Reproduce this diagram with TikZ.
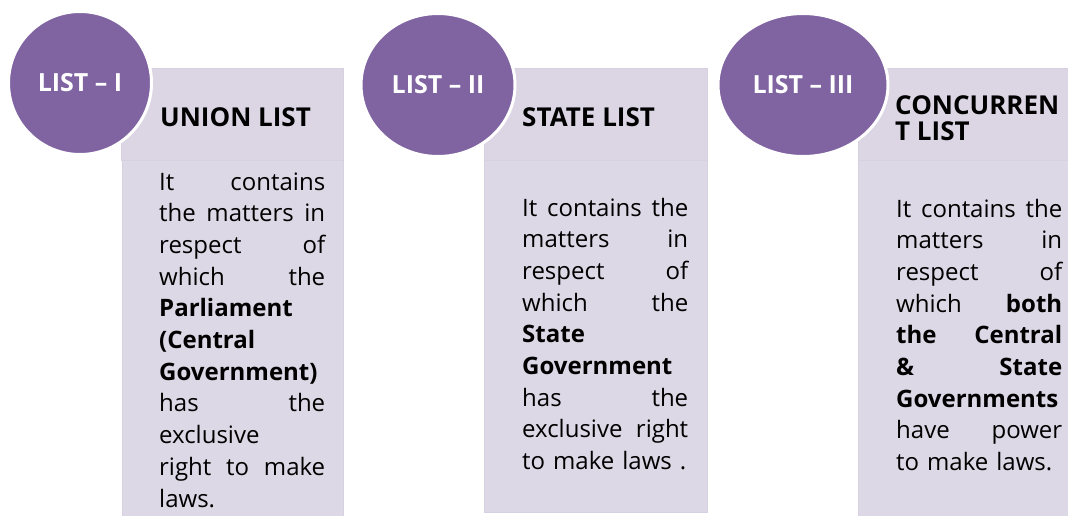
\documentclass[tikz,border=0pt]{standalone}
\usepackage{fontspec}
\setmainfont{Open Sans}
\usetikzlibrary{shapes.geometric}
\definecolor{listpurple}{HTML}{8064A2}
\definecolor{headfill}{HTML}{DCD6E4}
\definecolor{bodyfill}{HTML}{DDD8E5}
\definecolor{boxedge}{HTML}{D6D0E0}

\begin{document}
\begin{tikzpicture}[x=1pt,y=-1pt]
    \tikzstyle{listcircle}=[ellipse,draw=white,line width=3pt,fill=listpurple,text=white,inner sep=0pt,minimum height=143pt,font=\fontsize{25}{30}\selectfont\bfseries]
    \tikzstyle{headbox}=[rectangle,draw=boxedge,fill=headfill,inner sep=0pt,minimum height=92pt,anchor=north west]
    \tikzstyle{bodybox}=[rectangle,draw=boxedge,fill=bodyfill,inner sep=0pt,anchor=north west]
    \tikzstyle{headtext}=[anchor=base west,inner sep=0pt,align=left,font=\fontsize{26}{26}\selectfont\bfseries]
    \tikzstyle{bodytext}=[anchor=base west,inner sep=0pt,text width=166pt,align=left,font=\fontsize{24}{31.7}\selectfont]
    \useasboundingbox (0,0) rectangle (1068,515);
    \clip (0,0) rectangle (1068,515);
    % list I
    \node (union)[headbox,minimum width=222pt] at (121,68) {};
    \node (unionbody)[bodybox,minimum width=221pt,minimum height=360pt] at (122,160) {};
    % list II
    \node (state)[headbox,minimum width=223pt] at (484,68) {};
    \node (statebody)[bodybox,minimum width=223pt,minimum height=352pt] at (484,160) {};
    % list III
    \node (conc)[headbox,minimum width=230pt] at (858,68) {};
    \node (concbody)[bodybox,minimum width=230pt,minimum height=360pt] at (858,160) {};
    % circles
    \node (one)[listcircle,minimum width=143pt] at (80,83) {LIST – I};
    \node (two)[listcircle,minimum width=154pt] at (438,85) {LIST – II};
    \node (three)[listcircle,minimum width=170pt] at (803,85) {LIST – III};
    % headings
    \node (uniontitle)[headtext] at (160,126) {UNION LIST};
    \node (statetitle)[headtext] at (522,126) {STATE LIST};
    \node (conctitle)[headtext] at (895,140) {CONCURREN\\T LIST};
    % texts
    \node (uniontext)[bodytext] at (159,190) {It\hfill contains\\
        the\hfill matters\hfill in\\
        respect\hfill of\\
        which\hfill the\\
        \textbf{Parliament}\\
        \textbf{(Central}\\
        \textbf{Government)}\\
        has\hfill the\\
        exclusive\\
        right\hfill to\hfill make\\
        laws.};
    \node (statetext)[bodytext] at (522,216) {It\hfill contains\hfill the\\
        matters\hfill in\\
        respect\hfill of\\
        which\hfill the\\
        \textbf{State}\\
        \textbf{Government}\\
        has\hfill the\\
        exclusive\hfill right\\
        to make laws .};
    \node (conctext)[bodytext] at (896,217) {It\hfill contains\hfill the\\
        matters\hfill in\\
        respect\hfill of\\
        which\hfill \textbf{both}\\
        \textbf{the\hfill Central}\\
        \textbf{\&\hfill State}\\
        \textbf{Governments}\\
        have\hfill power\\
        to make laws.};
\end{tikzpicture}
\end{document}
